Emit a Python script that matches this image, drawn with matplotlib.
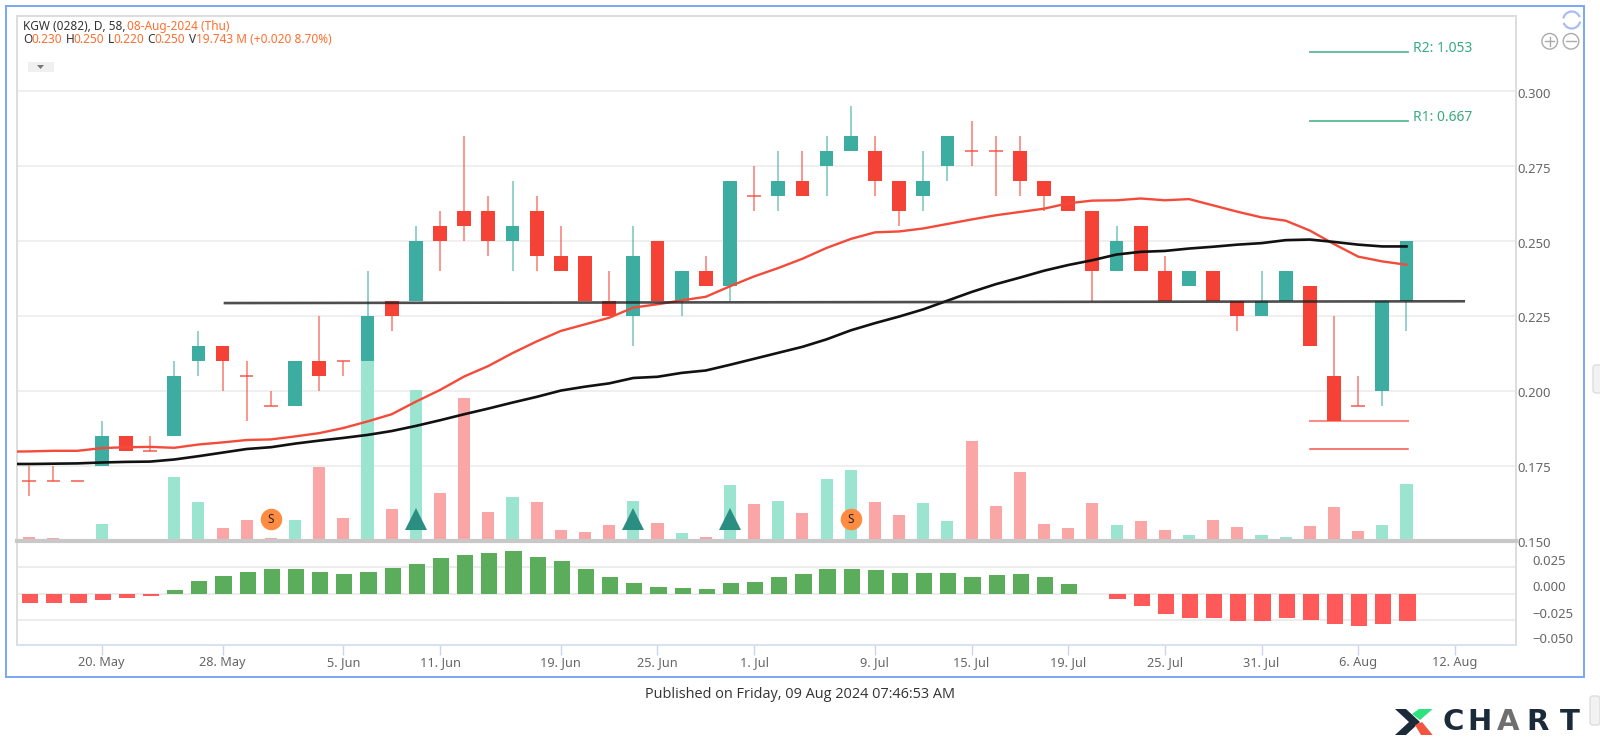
"""KGW (0282) daily candlestick chart with volume and MACD histogram panels."""

import matplotlib

matplotlib.use("Agg")
import matplotlib.pyplot as plt
import numpy as np
from matplotlib.patches import Arc, Circle, FancyBboxPatch, Polygon, Rectangle

plt.rcParams["font.family"] = ["Noto Sans", "DejaVu Sans"]

# candles, one value per trading day
opens = [
    0.170, 0.170, 0.170, 0.175, 0.185, 0.180, 0.185, 0.210, 0.215, 0.205,
    0.195, 0.195, 0.210, 0.210, 0.210, 0.230, 0.230, 0.255, 0.260, 0.260,
    0.250, 0.260, 0.245, 0.245, 0.230, 0.225, 0.250, 0.230, 0.240, 0.235,
    0.265, 0.265, 0.270, 0.275, 0.280, 0.280, 0.270, 0.265, 0.275, 0.280,
    0.280, 0.280, 0.270, 0.265, 0.260, 0.240, 0.255, 0.240, 0.235, 0.240,
    0.230, 0.225, 0.230, 0.235, 0.205, 0.195, 0.200, 0.230,
]
highs = [
    0.175, 0.175, 0.170, 0.190, 0.185, 0.185, 0.210, 0.220, 0.215, 0.210,
    0.200, 0.210, 0.225, 0.210, 0.240, 0.230, 0.255, 0.260, 0.285, 0.265,
    0.270, 0.265, 0.255, 0.245, 0.240, 0.255, 0.250, 0.240, 0.245, 0.270,
    0.275, 0.280, 0.280, 0.285, 0.295, 0.285, 0.270, 0.280, 0.285, 0.290,
    0.285, 0.285, 0.270, 0.265, 0.260, 0.255, 0.255, 0.245, 0.240, 0.240,
    0.230, 0.240, 0.240, 0.235, 0.225, 0.205, 0.230, 0.250,
]
lows = [
    0.165, 0.170, 0.170, 0.175, 0.180, 0.180, 0.185, 0.205, 0.200, 0.190,
    0.195, 0.195, 0.200, 0.205, 0.210, 0.220, 0.230, 0.240, 0.250, 0.245,
    0.240, 0.240, 0.240, 0.230, 0.225, 0.215, 0.230, 0.225, 0.235, 0.230,
    0.260, 0.260, 0.265, 0.265, 0.280, 0.265, 0.255, 0.260, 0.270, 0.275,
    0.265, 0.265, 0.260, 0.260, 0.230, 0.240, 0.240, 0.230, 0.235, 0.230,
    0.220, 0.225, 0.230, 0.215, 0.190, 0.195, 0.195, 0.220,
]
closes = [
    0.170, 0.170, 0.170, 0.185, 0.180, 0.180, 0.205, 0.215, 0.210, 0.205,
    0.195, 0.210, 0.205, 0.210, 0.225, 0.225, 0.250, 0.250, 0.255, 0.250,
    0.255, 0.245, 0.240, 0.230, 0.225, 0.245, 0.230, 0.240, 0.235, 0.270,
    0.265, 0.270, 0.265, 0.280, 0.285, 0.270, 0.260, 0.270, 0.285, 0.280,
    0.280, 0.270, 0.265, 0.260, 0.240, 0.250, 0.240, 0.230, 0.240, 0.230,
    0.225, 0.230, 0.240, 0.215, 0.190, 0.195, 0.230, 0.250,
]
rising = [
    0, 0, 0, 1, 0, 0, 1, 1, 0, 0,
    0, 1, 0, 0, 1, 0, 1, 0, 0, 0,
    1, 0, 0, 0, 0, 1, 0, 1, 0, 1,
    0, 1, 0, 1, 1, 0, 0, 1, 1, 0,
    0, 0, 0, 0, 0, 1, 0, 0, 1, 0,
    0, 1, 1, 0, 0, 0, 1, 1,
]
# volume in millions of shares
volumes = [
    1.2, 1.0, 0.0, 5.9, 0.3, 0.0, 22.2, 13.4, 4.4, 7.2,
    1.0, 7.2, 25.6, 7.9, 66.0, 11.0, 52.4, 16.7, 49.7, 10.1,
    15.3, 13.4, 3.8, 3.1, 5.4, 13.9, 6.3, 2.8, 1.2, 19.4,
    12.8, 13.9, 9.7, 21.6, 24.7, 13.6, 9.0, 13.2, 7.0, 34.8,
    12.2, 24.0, 5.9, 4.4, 13.0, 5.5, 7.0, 3.8, 2.1, 7.3,
    4.8, 2.1, 1.2, 5.1, 11.8, 3.5, 5.5, 19.74,
]
macd_hist = [
    -0.0082, -0.0082, -0.0082, -0.0060, -0.0038, -0.0019, 0.0032, 0.0123, 0.0165, 0.0206,
    0.0234, 0.0234, 0.0206, 0.0184, 0.0206, 0.0247, 0.0285, 0.0339, 0.0367, 0.0380,
    0.0399, 0.0348, 0.0307, 0.0234, 0.0155, 0.0101, 0.0060, 0.0051, 0.0041, 0.0101,
    0.0111, 0.0161, 0.0184, 0.0234, 0.0234, 0.0225, 0.0193, 0.0193, 0.0193, 0.0161,
    0.0174, 0.0184, 0.0161, 0.0093, 0.0, -0.0051, -0.0112, -0.0186, -0.0228, -0.0228,
    -0.0260, -0.0260, -0.0228, -0.0247, -0.0279, -0.0301, -0.0288, -0.0260,
]
# moving averages start one day left of the visible window
ma_fast = [
    0.1797, 0.1798, 0.1800, 0.1800, 0.1809, 0.1812, 0.1813, 0.1810, 0.1821, 0.1828,
    0.1836, 0.1838, 0.1848, 0.1859, 0.1876, 0.1898, 0.1922, 0.1964, 0.2003, 0.2048,
    0.2083, 0.2126, 0.2165, 0.2200, 0.2222, 0.2244, 0.2278, 0.2289, 0.2302, 0.2314,
    0.2349, 0.2382, 0.2410, 0.2441, 0.2477, 0.2507, 0.2529, 0.2532, 0.2542, 0.2557,
    0.2572, 0.2586, 0.2597, 0.2608, 0.2626, 0.2635, 0.2636, 0.2642, 0.2636, 0.2640,
    0.2619, 0.2598, 0.2579, 0.2568, 0.2535, 0.2490, 0.2448, 0.2432, 0.2421,
]
ma_slow = [
    0.1756, 0.1756, 0.1757, 0.1758, 0.1761, 0.1763, 0.1764, 0.1771, 0.1782, 0.1794,
    0.1806, 0.1812, 0.1824, 0.1834, 0.1843, 0.1853, 0.1866, 0.1883, 0.1902, 0.1922,
    0.1941, 0.1961, 0.1980, 0.2001, 0.2014, 0.2025, 0.2043, 0.2047, 0.2060, 0.2068,
    0.2087, 0.2107, 0.2127, 0.2147, 0.2172, 0.2202, 0.2226, 0.2248, 0.2272, 0.2301,
    0.2330, 0.2356, 0.2378, 0.2401, 0.2420, 0.2436, 0.2455, 0.2464, 0.2467, 0.2475,
    0.2481, 0.2488, 0.2493, 0.2503, 0.2505, 0.2497, 0.2488, 0.2482, 0.2482,
]
date_ticks = [3, 8, 13, 17, 22, 26, 30, 35, 39, 43, 47, 51, 55, 59]
date_labels = [
    "20. May", "28. May", "5. Jun", "11. Jun", "19. Jun", "25. Jun", "1. Jul",
    "9. Jul", "15. Jul", "19. Jul", "25. Jul", "31. Jul", "6. Aug", "12. Aug",
]
price_ticks = [0.150, 0.175, 0.200, 0.225, 0.250, 0.275, 0.300]
macd_ticks = [0.025, 0.000, -0.025, -0.050]
trend_x = [8.1, 59.37]
trend_y = [0.2293, 0.2299]
level_x = [53.0, 57.05]
resist_levels = [0.2899, 0.3131]
resist_labels = ["R1: 0.667", "R2: 1.053"]
support_levels = [0.1901, 0.1807]
buy_days = [16, 25, 29]
sell_days = [10, 34]
signal_price = 0.1572

GREEN = "#3dada2"
RED = "#f44336"
W, H = 1600, 737


def px_axes(fig, left, top, right, bottom):
    return fig.add_axes([left / W, 1 - bottom / H, (right - left) / W, (bottom - top) / H])


fig = plt.figure(figsize=(W / 100, H / 100), dpi=100, facecolor="white")
ax_macd = px_axes(fig, 16.7, 540.7, 1515.7, 645.3)
ax = px_axes(fig, 16.7, 16, 1515.7, 540.7)
xlim = (-0.52, 61.52)

x = np.arange(len(closes))
up = np.array(rising, dtype=bool)
o, c, h, l = map(np.array, (opens, closes, highs, lows))

# price panel; volume shares its scale, sitting on the 0.150 baseline
vol_scale = 0.1751 / 182.5
ax.bar(x[up], np.array(volumes)[up] * vol_scale, 0.5, bottom=0.150, color="#9be5d0", zorder=1)
ax.bar(x[~up], np.array(volumes)[~up] * vol_scale, 0.5, bottom=0.150, color="#fba6a6", zorder=1)
ax.vlines(x[up], l[up], h[up], color=GREEN, alpha=0.7, lw=1.1, zorder=2)
ax.vlines(x[~up], l[~up], h[~up], color=RED, alpha=0.7, lw=1.1, zorder=2)
body_low = np.minimum(o, c)
body = np.abs(c - o)
solid = body > 0
ax.bar(x[solid & up], body[solid & up], 0.57, bottom=body_low[solid & up], color=GREEN, zorder=3)
ax.bar(x[solid & ~up], body[solid & ~up], 0.57, bottom=body_low[solid & ~up], color=RED, zorder=3)
ax.hlines(c[~solid], x[~solid] - 0.28, x[~solid] + 0.28, color=RED, alpha=0.8, lw=1.2, zorder=3)

ma_x = np.arange(-1, len(closes))
ax.plot(ma_x, ma_fast, color="#f44a3a", lw=1.7, zorder=4)
ax.plot(ma_x, ma_slow, color="#111111", lw=1.9, zorder=4)
ax.plot(trend_x, trend_y, color="#222222", alpha=0.8, lw=1.9, zorder=5)

for level, label in zip(resist_levels, resist_labels):
    ax.plot(level_x, [level, level], color="#5cb894", lw=1.3, zorder=4)
    ax.annotate(label, xy=(level_x[1], level), xytext=(5, 3.5), textcoords="offset pixels",
                color="#3aaa80", fontsize=10, va="center", annotation_clip=False)
ax.plot(level_x, [support_levels[0]] * 2, color="#f98f88", lw=1.5, zorder=2)
ax.plot(level_x, [support_levels[1]] * 2, color="#f2554c", lw=1.1, zorder=4)

ax.plot(buy_days, [signal_price] * len(buy_days), "^", color="#2a8f82", ms=15.5, mew=0, zorder=6)
ax.plot(sell_days, [signal_price] * len(sell_days), "o", color="#ff8c42", ms=15.5, mew=0, zorder=6)
for day in sell_days:
    ax.text(day, signal_price, "S", color="#222222", fontsize=8.5, fontweight="bold",
            ha="center", va="center", zorder=7)

ax.set_xlim(xlim)
ax.set_ylim(0.150, 0.3251)
ax.set_yticks(price_ticks)
ax.set_yticklabels([])
ax.set_xticks([])
ax.grid(axis="y", color="#ececec", lw=1.2)
ax.set_axisbelow(True)
for value in price_ticks:
    ax.annotate(f"{value:.3f}", xy=(1, value), xycoords=ax.get_yaxis_transform(),
                xytext=(2, -3), textcoords="offset pixels", color="#666666", fontsize=9.4,
                va="center", annotation_clip=False)

# MACD histogram panel
hist = np.array(macd_hist)
ax_macd.bar(x + 0.04, hist, 0.67, color=np.where(hist >= 0, "#5bad5b", "#ff5a5a"), zorder=2)
ax_macd.set_xlim(xlim)
ax_macd.set_ylim(-0.0484, 0.05)
ax_macd.set_yticks([t for t in macd_ticks if t > -0.0484])
ax_macd.set_yticklabels([])
ax_macd.grid(axis="y", color="#ececec", lw=1.4)
ax_macd.set_axisbelow(True)
ax_macd.set_xticks(date_ticks)
ax_macd.set_xticklabels(date_labels, color="#666666", fontsize=9.2)
ax_macd.tick_params(axis="x", length=7, width=1, color="#ccd6eb", pad=0.5)
ax_macd.tick_params(axis="y", length=0)
for value in macd_ticks:
    text = f"{value:.3f}".replace("-", "\u2212")
    shift = 6 if value != -0.050 else 7.5
    ax_macd.annotate(text, xy=(1, value), xycoords=ax_macd.get_yaxis_transform(),
                     xytext=(16.5, shift), textcoords="offset pixels", color="#666666",
                     fontsize=9.4, va="center", annotation_clip=False)

for a in (ax, ax_macd):
    a.tick_params(axis="y", length=0)
    for side, spine in a.spines.items():
        spine.set_color("#dddddd")
        spine.set_linewidth(1.4)
ax.spines["bottom"].set_color("#c8c8c8")
ax.spines["bottom"].set_linewidth(3)
ax.spines["bottom"].set_zorder(6)
ax_macd.spines["top"].set_visible(False)
ax_macd.spines["bottom"].set_color("#d8e0f0")

# page furniture, placed in image pixels
page = fig.add_axes([0, 0, 1, 1], zorder=10)
page.set_xlim(0, W)
page.set_ylim(H, 0)
page.axis("off")
page.patch.set_alpha(0)
page.add_patch(Rectangle((5.7, 5.7), 1578, 671, fill=False, ec="#79a6f6", lw=1.4))

for left, center, text, color in [
    (23, 26, "KGW (0282), D, 58,", "#333333"),
    (126.7, 26, "08-Aug-2024 (Thu)", "#ff6e2e"),
    (23, 39, "O", "#333333"),
    (31.7, 39, "0.230", "#ff6e2e"),
    (65.4, 39, "H", "#333333"),
    (73.7, 39, "0.250", "#ff6e2e"),
    (107.4, 39, "L", "#333333"),
    (113.3, 39, "0.220", "#ff6e2e"),
    (147, 39, "C", "#333333"),
    (154.6, 39, "0.250", "#ff6e2e"),
    (188.7, 39, "V", "#333333"),
    (195.6, 39, "19.743 M (+0.020 8.70%)", "#ff6e2e"),
]:
    page.text(left, center, text, color=color, fontsize=8.5, va="center")

page.add_patch(Rectangle((27.5, 61.7), 26.2, 10.6, color="#f0f0f0", lw=0))
page.add_patch(Polygon([(37, 65), (44, 65), (40.5, 69)], color="#777777", lw=0))

page.add_patch(Circle((1549.7, 41.3), 7.8, fill=False, ec="#aaaaaa", lw=1))
page.add_patch(Circle((1571, 41.3), 7.8, fill=False, ec="#aaaaaa", lw=1))
page.plot([1545, 1554.4], [41.3, 41.3], color="#aaaaaa", lw=1)
page.plot([1549.7, 1549.7], [36.6, 46], color="#aaaaaa", lw=1)
page.plot([1566.3, 1575.7], [41.3, 41.3], color="#aaaaaa", lw=1)
page.add_patch(Arc((1571.7, 20), 17, 17, theta1=190, theta2=340, ec="#a9bdf0", lw=1.6))
page.add_patch(Arc((1571.7, 20), 17, 17, theta1=10, theta2=160, ec="#a9bdf0", lw=1.6))

for left, top, wide, tall in [(1593, 365, 10, 28), (1590, 696, 10, 29)]:
    page.add_patch(FancyBboxPatch((left, top), wide, tall, boxstyle="round,pad=0,rounding_size=3",
                                  fc="#f2f2f2", ec="#dddddd", lw=1))

page.text(800, 694, "Published on Friday, 09 Aug 2024 07:46:53 AM", color="#333333",
          fontsize=10.45, ha="center", va="center", family=["Open Sans", "DejaVu Sans"])

# logo
page.add_patch(Polygon([(1395, 709), (1406, 709), (1420, 722), (1406, 735), (1395, 735),
                        (1409, 722)], color="#1c2b3a", lw=0))
page.add_patch(Polygon([(1419, 709), (1432.7, 709), (1420, 720), (1412, 714)], color="#2de37f", lw=0))
page.add_patch(Polygon([(1415, 725), (1422, 722), (1432.7, 735), (1421, 735)], color="#f4553f", lw=0))
for left, letter, color in [(1453.4, "C", "#1c2b3a"), (1480, "H", "#1c2b3a"), (1508, "A", "#6f6f6f"),
                            (1538, "R", "#1c2b3a"), (1570, "T", "#1c2b3a")]:
    page.text(left, 722, letter, color=color, fontsize=21, fontweight="bold", ha="center",
              va="center", family="DejaVu Sans")

fig.savefig("out.png", dpi=100, facecolor="white")
